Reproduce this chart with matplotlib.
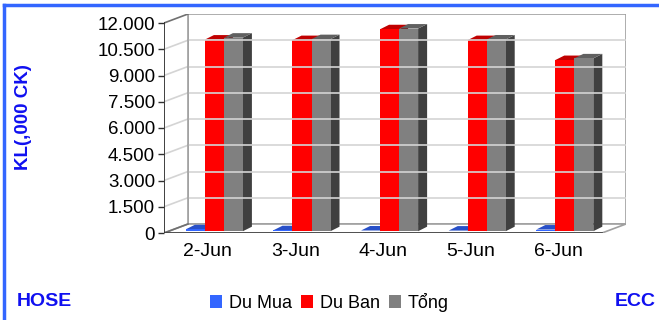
import matplotlib.pyplot as plt
from matplotlib.patches import Polygon, Patch
from matplotlib.lines import Line2D

plt.rcParams['font.family'] = ['Liberation Sans', 'DejaVu Sans']

days = ['2-Jun', '3-Jun', '4-Jun', '5-Jun', '6-Jun']
du_mua = [110, 55, 40, 35, 95]
du_ban = [10950, 10920, 11540, 10920, 9780]
tong = [m + b for m, b in zip(du_mua, du_ban)]
series_names = ['Du Mua', 'Du Ban', 'Tổng']
yticks = [0, 1500, 3000, 4500, 6000, 7500, 9000, 10500, 12000]

# face / top / side shades for each series
shades = [('#3366ff', '#2850c8', '#1a3a99'),
          ('#ff0000', '#c00000', '#800000'),
          ('#808080', '#606060', '#404040')]

W, H = 659, 320
fig = plt.figure(figsize=(W / 100, H / 100), dpi=100)

# plot box in pixels: front axis at x=164, floor at y=233
px_cat = 87.6
px_val = 210 / 12000
DX = 24 / px_cat          # wall depth, category units
DY = 9 / px_val           # wall depth, value units
ax = fig.add_axes([164 / W, (H - 233) / H, (5 * px_cat + 24) / W, (210 + 9) / H])
ax.set_xlim(-0.5, 4.5 + DX)
ax.set_ylim(0, 12000 + DY)
for s in ax.spines.values():
    s.set_visible(False)

x0, x1 = -0.5, 4.5
ymax = yticks[-1]
edge = '#a0a0a0'

# back wall, side wall, floor
ax.add_patch(Polygon([(x0 + DX, DY), (x1 + DX, DY), (x1 + DX, ymax + DY), (x0 + DX, ymax + DY)],
                     closed=True, fc='white', ec=edge, lw=1.2))
ax.add_patch(Polygon([(x0, 0), (x0 + DX, DY), (x0 + DX, ymax + DY), (x0, ymax)],
                     closed=True, fc='white', ec='none'))
ax.add_patch(Polygon([(x0, 0), (x1, 0), (x1 + DX, DY), (x0 + DX, DY)],
                     closed=True, fc='white', ec=edge, lw=1.2))

# gridlines on the walls
for v in yticks[1:-1]:
    ax.plot([x0 + DX, x1 + DX], [v + DY, v + DY], color='#d4d4d4', lw=1.2)
    ax.plot([x0, x0 + DX], [v, v + DY], color='#d4d4d4', lw=1.2)
ax.plot([x0 + DX, x0 + DX], [DY, ymax + DY], color=edge, lw=1.2)
ax.plot([x0, x0 + DX], [ymax, ymax + DY], color='#707070', lw=1.2)
ax.plot([x0, x0 + DX], [0, DY], color='#707070', lw=1.2)
ax.plot([x0, x1], [0, 0], color='#404040', lw=1.2)
ax.plot([x0, x0], [0, ymax], color='#303030', lw=1.3)

# 3-D looking columns
bw = 0.217
f0 = 0.2                      # depth where the column front sits
bdx = 9 / px_cat              # column depth
bdy = 4.5 / px_val
for i in range(len(days)):
    for k, vals in enumerate([du_mua, du_ban, tong]):
        v = vals[i]
        face, top, side = shades[k]
        lx = i - 0.305 + k * bw + f0 * DX
        by = f0 * DY
        ax.add_patch(Polygon([(lx + bw, by), (lx + bw + bdx, by + bdy),
                              (lx + bw + bdx, by + v + bdy), (lx + bw, by + v)],
                             closed=True, fc=side, ec='none'))
        ax.add_patch(Polygon([(lx, by + v), (lx + bw, by + v),
                              (lx + bw + bdx, by + v + bdy), (lx + bdx, by + v + bdy)],
                             closed=True, fc=top, ec='none'))
        ax.add_patch(Polygon([(lx, by), (lx + bw, by), (lx + bw, by + v), (lx, by + v)],
                             closed=True, fc=face, ec='none'))

ax.set_yticks(yticks)
ax.set_yticklabels([f'{v:,}'.replace(',', '.') for v in yticks])
ax.set_xticks(range(len(days)))
ax.set_xticklabels(days)
ax.tick_params(axis='y', length=4.5, width=1, color='#303030', labelsize=13.5, pad=2)
ax.tick_params(axis='x', length=0, labelsize=14, pad=7)

fig.text(23 / W, 1 - 117 / H, 'KL(,000 CK)', rotation=90, ha='center', va='center',
         color='#1010f0', fontsize=13.5, fontweight='bold')
fig.text(17 / W, 1 - 302 / H, 'HOSE', ha='left', va='center',
         color='#1010f0', fontsize=14, fontweight='bold')
fig.text(656 / W, 1 - 302 / H, 'ECC', ha='right', va='center',
         color='#1010f0', fontsize=14, fontweight='bold')

handles = [Patch(fc=s[0], ec='none') for s in shades]
fig.legend(handles, series_names, loc='center', bbox_to_anchor=(0.5, 1 - 302 / H),
           ncol=3, frameon=False, fontsize=13, handlelength=0.65, handleheight=0.75,
           handletextpad=0.4, columnspacing=0.5, borderpad=0)

# outer frame
fig.add_artist(Line2D([4 / W, 4 / W], [0, 1 - 5 / H], color='#3366ff', lw=2.5))
fig.add_artist(Line2D([4 / W, 1], [1 - 5 / H, 1 - 5 / H], color='#3366ff', lw=2.5))

fig.savefig('out.png', dpi=100)
